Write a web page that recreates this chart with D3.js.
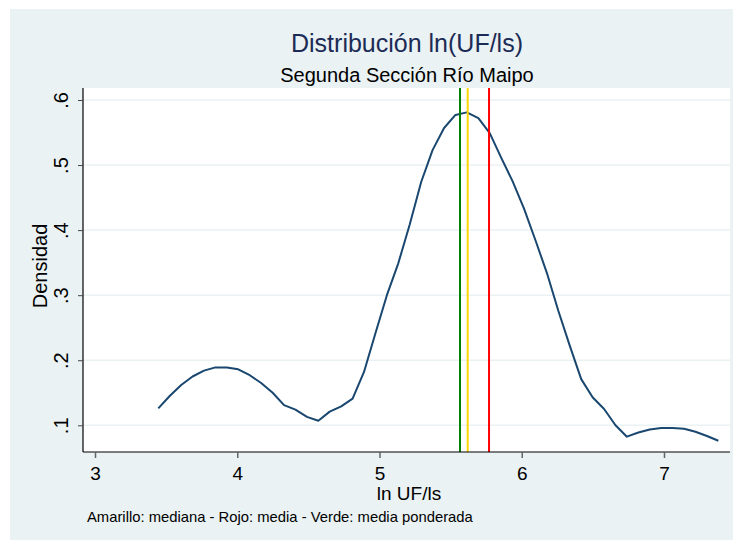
<!DOCTYPE html>
<html>
<head>
<meta charset="utf-8">
<script src="https://cdn.jsdelivr.net/npm/d3@7"></script>
<style>
html,body{margin:0;padding:0;background:#ffffff;}
svg{display:block;font-family:Arial,"Liberation Sans",sans-serif;}
</style>
</head>
<body>
<svg id="chart" width="734" height="540"></svg>
<script>
// ---- data ----
const gridX = [3.445,3.525,3.606,3.686,3.766,3.847,3.927,4.007,4.088,4.168,
               4.249,4.329,4.409,4.490,4.570,4.650,4.731,4.811,4.891,4.972,
               5.052,5.132,5.213,5.293,5.373,5.454,5.534,5.614,5.695,5.775,
               5.856,5.936,6.016,6.097,6.177,6.257,6.338,6.418,6.498,6.579,
               6.659,6.739,6.820,6.900,6.980,7.061,7.141,7.221,7.302,7.382];
const density = [0.126,0.145,0.162,0.175,0.184,0.189,0.189,0.186,0.177,0.165,
                 0.150,0.131,0.124,0.113,0.107,0.121,0.129,0.141,0.182,0.242,
                 0.300,0.349,0.409,0.474,0.523,0.557,0.577,0.581,0.572,0.549,
                 0.511,0.475,0.433,0.384,0.334,0.276,0.222,0.171,0.143,0.125,
                 0.100,0.0825,0.089,0.0935,0.096,0.096,0.0946,0.090,0.0836,0.0763];
const refNames = ["Verde: media ponderada","Amarillo: mediana","Rojo: media"];
const refValues = [5.566, 5.620, 5.770];
const refColors = ["#008000","#ffd700","#ff0000"];
const xTicks = [3,4,5,6,7];
const yTicks = [0.1,0.2,0.3,0.4,0.5,0.6];
const yTickLabels = [".1",".2",".3",".4",".5",".6"];
const titleText = "Distribución ln(UF/ls)";
const subtitleText = "Segunda Sección Río Maipo";
const xTitle = "ln UF/ls";
const yTitle = "Densidad";
const noteText = "Amarillo: mediana - Rojo: media - Verde: media ponderada";

// ---- layout ----
const svg = d3.select("#chart");
const plot = {left:83, right:730, top:88, bottom:452};

svg.append("rect").attr("x",10).attr("y",9).attr("width",723).attr("height",531)
   .attr("fill","#eaf2f3");
svg.append("rect").attr("x",plot.left).attr("y",plot.top)
   .attr("width",plot.right-plot.left).attr("height",plot.bottom-plot.top)
   .attr("fill","#ffffff");

const x = d3.scaleLinear().domain([3,7]).range([95,664]);
const y = d3.scaleLinear().domain([0.1,0.6]).range([425.3,100]);

// gridlines
svg.append("g").selectAll("line").data(yTicks).join("line")
   .attr("x1",plot.left).attr("x2",plot.right)
   .attr("y1",d=>y(d)).attr("y2",d=>y(d))
   .attr("stroke","#eaf2f3").attr("stroke-width",1.5);

// density line
const line = d3.line().x(d=>x(d[0])).y(d=>y(d[1]));
svg.append("path").datum(gridX.map((v,i)=>[v,density[i]]))
   .attr("d",line).attr("fill","none").attr("stroke","#1a476f")
   .attr("stroke-width",2).attr("stroke-linejoin","round");

// reference lines
svg.append("g").selectAll("line").data(refValues).join("line")
   .attr("x1",d=>x(d)).attr("x2",d=>x(d))
   .attr("y1",plot.top).attr("y2",plot.bottom)
   .attr("stroke",(d,i)=>refColors[i]).attr("stroke-width",2);

// y axis
const yAxis = d3.axisLeft(y).tickValues(yTicks).tickSize(5).tickPadding(0)
   .tickFormat((d,i)=>yTickLabels[i]);
const gy = svg.append("g").attr("transform",`translate(${plot.left},0)`).call(yAxis);
gy.select(".domain").attr("d",`M0,${plot.top}V${plot.bottom}`).attr("stroke","#000").attr("stroke-width",1.2);
gy.selectAll(".tick line").attr("stroke","#444").attr("stroke-width",1);
gy.selectAll(".tick text")
  .attr("font-size",20).attr("fill","#000")
  .attr("text-anchor","middle").attr("dy",null).attr("x",null)
  .attr("transform","translate(-15,0) rotate(-90)");

// x axis
const xAxis = d3.axisBottom(x).tickValues(xTicks).tickSize(6).tickPadding(0)
   .tickFormat(d3.format("d"));
const gx = svg.append("g").attr("transform",`translate(0,${plot.bottom})`).call(xAxis);
gx.select(".domain").attr("d",`M${plot.left},0H${plot.right}`).attr("stroke","#000").attr("stroke-width",1.2);
gx.selectAll(".tick line").attr("stroke","#666").attr("stroke-width",1.5);
gx.selectAll(".tick text").attr("font-size",19).attr("fill","#000")
  .attr("dy",null).attr("y",28);

// titles
svg.append("text").attr("x",407).attr("y",51.5).attr("text-anchor","middle")
   .attr("font-size",25).attr("fill","#1c2b55").text(titleText);
svg.append("text").attr("x",407).attr("y",81.5).attr("text-anchor","middle")
   .attr("font-size",20).attr("fill","#000").text(subtitleText);
svg.append("text").attr("x",409).attr("y",500).attr("text-anchor","middle")
   .attr("font-size",19).attr("fill","#000").text(xTitle);
svg.append("text").attr("transform","translate(47,266) rotate(-90)")
   .attr("text-anchor","middle").attr("font-size",20).attr("fill","#000").text(yTitle);
svg.append("text").attr("x",87).attr("y",522)
   .attr("font-size",14.8).attr("fill","#000").text(noteText);
</script>
</body>
</html>
